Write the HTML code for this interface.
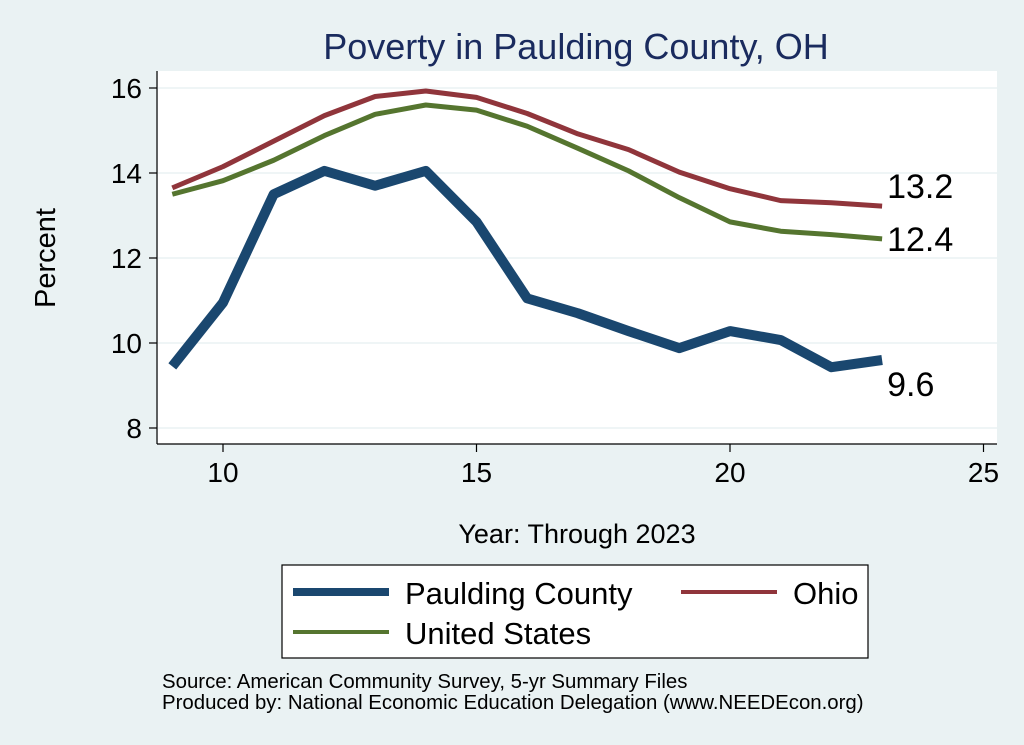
<!DOCTYPE html>
<html><head><meta charset="utf-8"><style>
body{margin:0;background:#eaf2f3;}
svg{display:block;font-family:"Liberation Sans",Arial,sans-serif;}
</style></head><body>
<svg id="chart" width="1024" height="745" viewBox="0 0 1024 745">
<rect width="1024" height="745" fill="#eaf2f3"/>
<text x="576" y="59" font-size="36" fill="#1a2b5e" text-anchor="middle">Poverty in Paulding County, OH</text>
<rect x="158" y="71" width="839" height="373" fill="#fff"/>
<g id="grid"></g>
<g id="axes"></g>
<g id="series"></g>
<text x="55" y="258" font-size="29" text-anchor="middle" transform="rotate(-90 55 258)">Percent</text>
<text x="577" y="543" font-size="27" text-anchor="middle">Year: Through 2023</text>
<g>
<rect x="282" y="565" width="586" height="93" fill="#fff" stroke="#000" stroke-width="1.2"/>
<line x1="293" y1="592" x2="389" y2="592" stroke="#1a476f" stroke-width="8"/>
<text x="405" y="604" font-size="31">Paulding County</text>
<line x1="681" y1="592" x2="777" y2="592" stroke="#90353b" stroke-width="4"/>
<text x="793" y="604" font-size="31">Ohio</text>
<line x1="293" y1="632" x2="389" y2="632" stroke="#55752f" stroke-width="4"/>
<text x="405" y="644" font-size="31">United States</text>
</g>
<text x="162" y="688" font-size="20.4">Source: American Community Survey, 5-yr Summary Files</text>
<text x="162" y="709" font-size="20.4">Produced by: National Economic Education Delegation (www.NEEDEcon.org)</text>
</svg>
<script>
const years=[9,10,11,12,13,14,15,16,17,18,19,20,21,22,23];
const paulding=[9.45,10.95,13.5,14.05,13.7,14.05,12.85,11.05,10.7,10.28,9.88,10.28,10.07,9.43,9.6];
const ohio=[13.65,14.15,14.75,15.35,15.8,15.93,15.78,15.4,14.92,14.55,14.02,13.63,13.35,13.3,13.22];
const us=[13.5,13.82,14.3,14.88,15.38,15.6,15.48,15.1,14.58,14.05,13.42,12.85,12.63,12.55,12.45];
const xTicks=[10,15,20,25];
const yTicks=[8,10,12,14,16];
const NS="http://www.w3.org/2000/svg";
function xs(v){return 223+(v-10)*50.7;}
function ys(v){return 428-(v-8)*42.5;}
function mk(t,a,p){const e=document.createElementNS(NS,t);for(const k in a)e.setAttribute(k,a[k]);p.appendChild(e);return e;}
const grid=document.getElementById('grid'),axes=document.getElementById('axes'),ser=document.getElementById('series');
mk('line',{x1:157,y1:71,x2:157,y2:444,stroke:'#000','stroke-width':1.2},axes);
mk('line',{x1:157,y1:444,x2:997,y2:444,stroke:'#000','stroke-width':1.2},axes);
yTicks.forEach(v=>{
 const g=mk('line',{x1:158,y1:ys(v),x2:997,y2:ys(v),stroke:'#eaf2f3','stroke-width':1.5},grid);
 
 
 mk('line',{x1:149,y1:ys(v),x2:157,y2:ys(v),stroke:'#000','stroke-width':1.2},axes);
 const t=mk('text',{x:142,y:ys(v)+10,'font-size':28,'text-anchor':'end'},axes);
 t.textContent=v;
 
 
});
xTicks.forEach(v=>{
 mk('line',{x1:xs(v),y1:444,x2:xs(v),y2:452,stroke:'#000','stroke-width':1.2},axes);
 const t=mk('text',{x:xs(v),y:482,'font-size':28,'text-anchor':'middle'},axes);
 t.textContent=v;
 
 
});
function line(data,color,w,name){
 const d=data.map((v,i)=>(i?'L':'M')+xs(years[i])+' '+ys(v)).join(' ');
 const p=mk('path',{d:d,fill:'none',stroke:color,'stroke-width':w,'stroke-linejoin':'round'},ser);
 
 
}
line(us,'#55752f',5,'us-line');
line(ohio,'#90353b',5,'ohio-line');
line(paulding,'#1a476f',10,'paulding-line');
function lab(data,dy,name){
 const v=data[data.length-1];
 const t=mk('text',{x:xs(years[years.length-1])+5,y:ys(v)+dy,'font-size':34},ser);
 t.textContent=v.toFixed(1);
 
 
}
lab(ohio,-8,'ohio-end-label');
lab(us,12,'us-end-label');
lab(paulding,36,'paulding-end-label');
</script>
</body></html>
